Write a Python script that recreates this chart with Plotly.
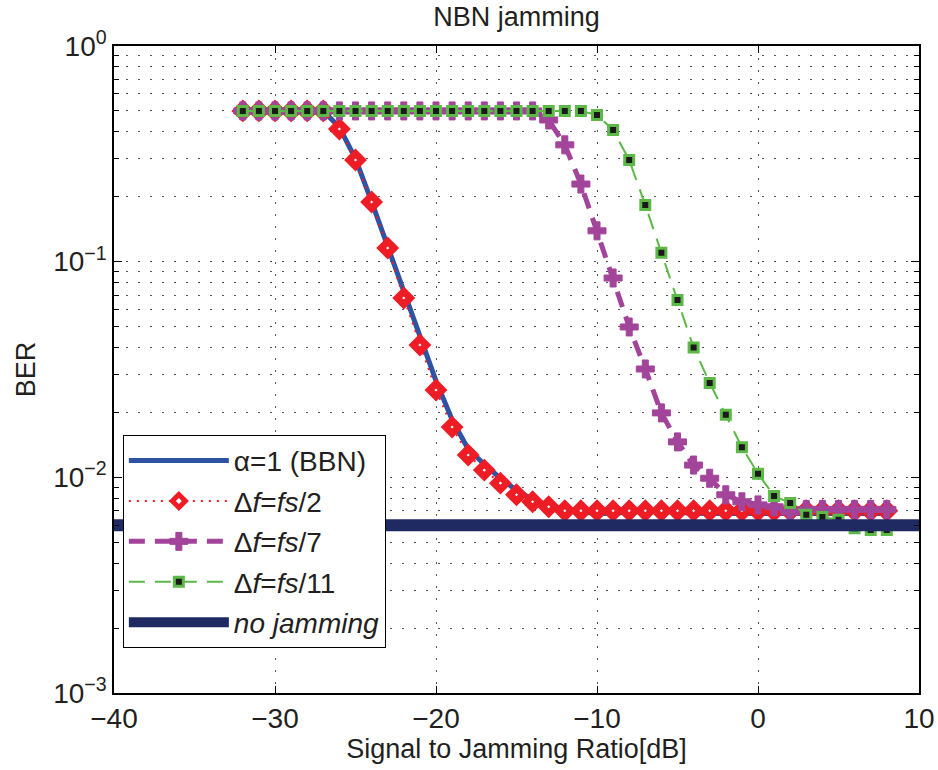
import plotly.graph_objects as go

snr = list(range(-32, 9))

ber_bbn = [0.5, 0.5, 0.5, 0.5, 0.5, 0.5, 0.42, 0.30, 0.19, 0.117, 0.072, 0.045, 0.028,
           0.0185, 0.0135, 0.0115, 0.0099, 0.0087, 0.0079, 0.0074, 0.0071, 0.0069,
           0.0068, 0.0068, 0.0069, 0.0070, 0.0070, 0.0069, 0.0068, 0.0068, 0.0068, 0.0068,
           0.0068, 0.0068, 0.0068, 0.0068, 0.0068, 0.0068, 0.0068, 0.0068, 0.0068]

ber_fs2 = [0.5, 0.5, 0.5, 0.5, 0.5, 0.5, 0.412, 0.296, 0.189, 0.1157, 0.0679, 0.0411, 0.0254,
           0.0171, 0.0127, 0.0108, 0.0094, 0.0083, 0.0077, 0.0073, 0.0070, 0.0070,
           0.0070, 0.0070, 0.0070, 0.0070, 0.0070, 0.0070, 0.0070, 0.0070, 0.0070, 0.0070,
           0.0070, 0.0070, 0.0070, 0.0070, 0.0070, 0.0070, 0.0070, 0.0070, 0.0070]

ber_fs7 = [0.5, 0.5, 0.5, 0.5, 0.5, 0.5, 0.5, 0.5, 0.5, 0.5, 0.5, 0.5, 0.5, 0.5, 0.5,
           0.5, 0.5, 0.5, 0.5, 0.454, 0.348, 0.229, 0.139, 0.084, 0.0498, 0.0318,
           0.0199, 0.0146, 0.0114, 0.0099, 0.0083, 0.0077, 0.00745, 0.0073, 0.0069,
           0.0071, 0.0071, 0.0071, 0.0071, 0.0071, 0.0071]

ber_fs11 = [0.5, 0.5, 0.5, 0.5, 0.5, 0.5, 0.5, 0.5, 0.5, 0.5, 0.5, 0.5, 0.5, 0.5, 0.5,
            0.5, 0.5, 0.5, 0.5, 0.5, 0.5, 0.5, 0.479, 0.408, 0.296, 0.183, 0.110, 0.0664,
            0.040, 0.0274, 0.0195, 0.0138, 0.0104, 0.0082, 0.0076, 0.0067, 0.00655,
            0.00635, 0.0058, 0.0057, 0.0057]

nojam_x = [-40, 10]
nojam_y = [0.006, 0.006]

names = ["α=1 (BBN)", "Δ<i>f</i>=<i>fs</i>/2", "Δ<i>f</i>=<i>fs</i>/7",
         "Δ<i>f</i>=<i>fs</i>/11", "<i>no jamming</i>"]

x_tickvals = [-40, -30, -20, -10, 0, 10]
x_ticktext = ["−40", "−30", "−20", "−10", "0", "10"]
y_tickvals = [1e-3, 1e-2, 1e-1, 1]
y_ticktext = ["10<sup>−3</sup>", "10<sup>−2</sup>", "10<sup>−1</sup>", "10<sup>0</sup>"]

BLUE = "#2e52a4"
RED = "#ee1c24"
PURPLE = "#a3449b"
GREEN = "#5cb947"
NAVY = "#1f2a63"
FONT = "Liberation Sans, Arial, sans-serif"
TXT = "#231f20"

fig = go.Figure()
fig.add_trace(go.Scatter(x=snr, y=ber_bbn, mode="lines", name=names[0], legendgroup="a",
                         line=dict(color=BLUE, width=5)))
fig.add_trace(go.Scatter(x=snr, y=ber_fs2, mode="lines+markers", name=names[1], legendgroup="b",
                         line=dict(color=RED, width=2, dash="2px,6px"),
                         marker=dict(symbol="diamond", size=10, color="white",
                                     line=dict(color=RED, width=7))))
fig.add_trace(go.Scatter(x=snr, y=ber_fs7, mode="lines+markers", name=names[2], legendgroup="c",
                         line=dict(color=PURPLE, width=5, dash="16px,10px"),
                         marker=dict(symbol="cross", size=15, color=PURPLE,
                                     line=dict(color=PURPLE, width=1))))
fig.add_trace(go.Scatter(x=snr, y=ber_fs11, mode="lines+markers", name=names[3], legendgroup="d",
                         line=dict(color=GREEN, width=2, dash="16px,10px"),
                         marker=dict(symbol="square", size=9, color="#1a1a1a",
                                     line=dict(color=GREEN, width=3))))
fig.add_trace(go.Scatter(x=nojam_x, y=nojam_y, mode="lines", name=names[4], legendgroup="e",
                         line=dict(color=NAVY, width=12)))

fig.update_layout(
    width=938, height=770,
    margin=dict(l=114, r=19, t=46, b=77),
    paper_bgcolor="white", plot_bgcolor="white",
    font=dict(family=FONT, size=28, color=TXT),
    title=dict(text="NBN jamming", x=0.5507, xanchor="center", y=0.979, yanchor="middle",
               font=dict(size=27, color=TXT)),
    legend=dict(x=0.011, y=0.399, xanchor="left", yanchor="top",
                bgcolor="white", bordercolor="black", borderwidth=1,
                font=dict(size=28, color=TXT), traceorder="grouped",
                tracegroupgap=1, itemwidth=100),
    showlegend=True,
)

fig.update_xaxes(
    range=[-40, 10], tickvals=x_tickvals, ticktext=x_ticktext,
    ticks="inside", ticklen=7, tickcolor="black", tickwidth=1,
    showline=True, linecolor="black", linewidth=1.5, mirror="ticks",
    showgrid=True, gridcolor="#555555", gridwidth=1, griddash="2px,10px",
    zeroline=False, automargin=False,
    tickfont=dict(size=28),
    title=dict(text="Signal to Jamming Ratio[dB]", font=dict(size=27), standoff=4),
)
fig.update_yaxes(
    type="log", range=[-3, 0],
    tickvals=y_tickvals, ticktext=y_ticktext,
    ticks="inside", ticklen=8, tickcolor="black", tickwidth=1,
    showline=True, linecolor="black", linewidth=1.5, mirror="ticks",
    showgrid=True, gridcolor="#555555", gridwidth=1, griddash="2px,10px",
    minor=dict(dtick="D1", ticks="inside", ticklen=5, tickcolor="black",
               showgrid=True, gridcolor="#555555", gridwidth=1, griddash="2px,10px"),
    zeroline=False, automargin=False,
    tickfont=dict(size=28),
    title=dict(text="BER", font=dict(size=27), standoff=10),
)

fig.write_html("out.html")
